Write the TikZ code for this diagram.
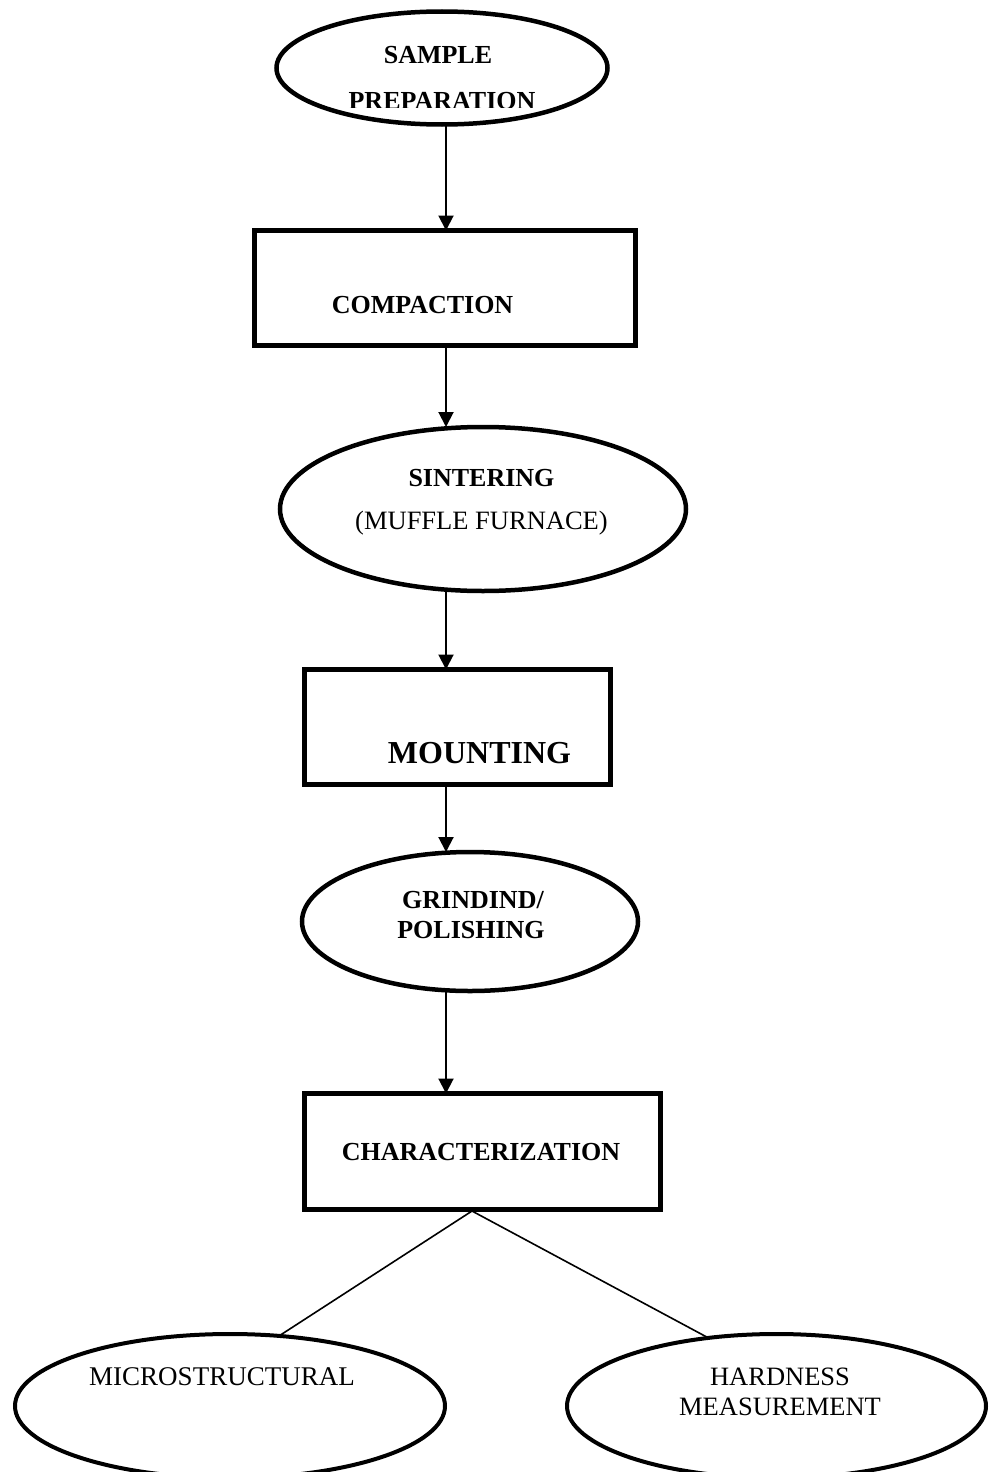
\documentclass[tikz,border=0pt]{standalone}
\usepackage{fontspec}
\setmainfont{Liberation Serif}
\usetikzlibrary{shapes.geometric,arrows.meta,calc}
\tikzset{
  ellbox/.style={draw,ellipse,line width=4.5pt,inner sep=0pt,outer sep=0pt},
  rectbox/.style={draw,rectangle,line width=5.5pt,inner sep=0pt,outer sep=0pt},
  flowarr/.style={line width=2pt,-{Triangle[width=15pt,length=15pt]}},
  branch/.style={line width=1.6pt},
  btxt/.style={inner sep=0pt,font=\bfseries\fontsize{26}{30}\selectfont},
  ntxt/.style={inner sep=0pt,font=\fontsize{26.5}{30}\selectfont}
}
\begin{document}
\begin{tikzpicture}[x=1pt,y=-1pt]
\useasboundingbox (0,0) rectangle (990,1472);
% shapes
\node[ellbox,minimum width=331pt,minimum height=113pt] (e1) at (442,68) {};
\node[rectbox,minimum width=381pt,minimum height=115pt] (r1) at (445,288) {};
\node[ellbox,minimum width=406pt,minimum height=164pt] (e2) at (483,509) {};
\node[rectbox,minimum width=306pt,minimum height=115pt] (r2) at (457.5,727) {};
\node[ellbox,minimum width=336pt,minimum height=139pt] (e3) at (470,921.5) {};
\node[rectbox,minimum width=356pt,minimum height=116pt] (r3) at (482.5,1151.5) {};
\node[ellbox,line width=4pt,minimum width=430pt,minimum height=144pt] (e4) at (230,1406) {};
\node[ellbox,line width=4pt,minimum width=419pt,minimum height=144pt] (e5) at (776.5,1406) {};
% texts
\node[btxt] (t1) at (438,55) {SAMPLE};
\begin{scope}
\clip (300,0) rectangle (600,107);
\node[btxt,anchor=base] (t2) at (442,109.5) {PREPARATION};
\end{scope}
\node[btxt] (t3) at (422.5,305) {COMPACTION};
\node[btxt] (t4) at (481.5,478) {SINTERING};
\node[ntxt] (t5) at (481.5,523) {(MUFFLE FURNACE)};
\node[btxt,font=\bfseries\fontsize{32}{36}\selectfont] (t6) at (479.5,753) {MOUNTING};
\node[btxt] (t7) at (473,900) {GRINDIND/};
\node[btxt] (t8) at (471,930) {POLISHING};
\node[btxt] (t9) at (481,1152) {CHARACTERIZATION};
\node[ntxt,font=\fontsize{27}{30}\selectfont] (t10) at (222,1377) {MICROSTRUCTURAL};
\node[ntxt] (t11) at (780,1377) {HARDNESS};
\node[ntxt] (t12) at (780,1407) {MEASUREMENT};
% connectors
\coordinate (col) at (446,0);
\coordinate (fork) at (472,1211);
\draw[flowarr] (col |- e1.south) -- (col |- r1.north);
\draw[flowarr] (col |- r1.south) -- (col |- e2.north);
\draw[flowarr] (col |- e2.south) -- (col |- r2.north);
\draw[flowarr] (col |- r2.south) -- (col |- e3.north);
\draw[flowarr] (col |- e3.south) -- (col |- r3.north);
\draw[branch] (fork) -- (e4.55);
\draw[branch] (fork) -- (e5.135.5);
\end{tikzpicture}
\end{document}
